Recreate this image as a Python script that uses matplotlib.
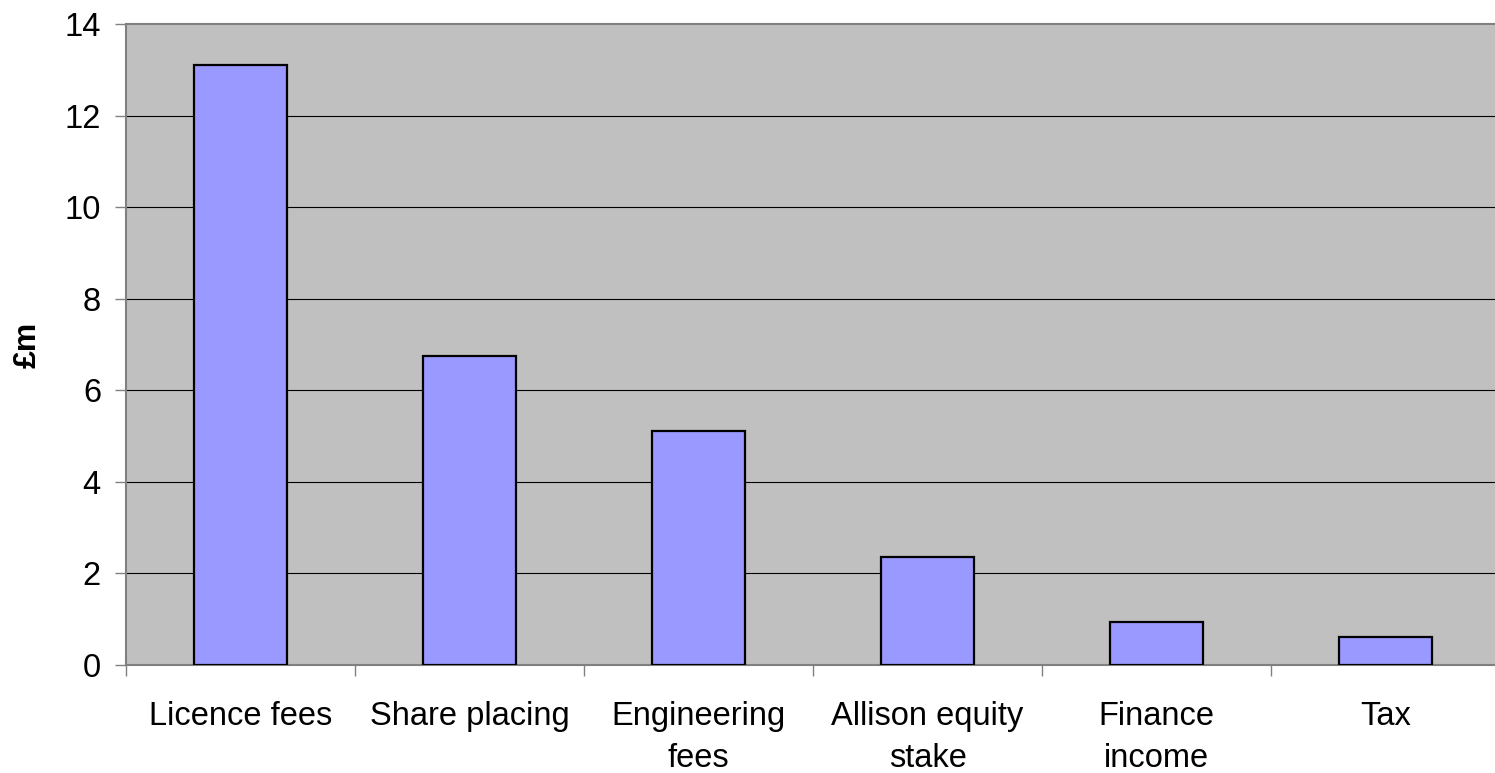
import matplotlib
matplotlib.use('Agg')
import matplotlib.pyplot as plt
import numpy as np

categories = ['Licence fees', 'Share placing', 'Engineering\nfees',
              'Allison equity\nstake', 'Finance\nincome', 'Tax']
values = [13.1, 6.75, 5.1, 2.35, 0.94, 0.61]
yticks = [0, 2, 4, 6, 8, 10, 12, 14]

plt.rcParams['font.family'] = ['Liberation Sans', 'DejaVu Sans']

fig = plt.figure(figsize=(14.95, 7.73), dpi=100)
W, H = 1495.0, 773.0
ax = fig.add_axes([126 / W, 1 - 665 / H, 1374 / W, (665 - 24) / H])
ax.set_facecolor('#C0C0C0')

x = np.arange(len(categories))
ax.bar(x, values, width=0.41, color='#9999FF', edgecolor='black',
       linewidth=1.6, zorder=3)

ax.set_xlim(-0.5, len(categories) - 0.5)
ax.set_ylim(0, 14)
ax.set_yticks(yticks)
ax.set_yticklabels([str(v) for v in yticks], fontsize=23.5)
for v in yticks[1:-1]:
    ax.axhline(v, color='black', linewidth=0.8, zorder=1)
ax.axhline(14, color='#808080', linewidth=1.5, zorder=1, clip_on=False)

ax.set_xticks(np.arange(len(categories) + 1) - 0.5)
ax.set_xticklabels([])
ax.set_xticks(x, minor=True)
ax.set_xticklabels(categories, minor=True, fontsize=23.5, linespacing=1.45,
                   va='top')
ax.tick_params(axis='x', which='minor', length=0, pad=26)
ax.tick_params(axis='x', which='major', length=8, color='#808080', width=1)
ax.tick_params(axis='y', length=8, color='#808080', width=1, pad=10)

for side in ['top', 'right']:
    ax.spines[side].set_visible(False)
for side in ['left', 'bottom']:
    ax.spines[side].set_color('#808080')
    ax.spines[side].set_linewidth(1.5)

fig.text(28 / W, 1 - 345 / H, '£m', fontsize=23, fontweight='bold',
         rotation=90, ha='center', va='center')

fig.savefig('out.png', dpi=100)
